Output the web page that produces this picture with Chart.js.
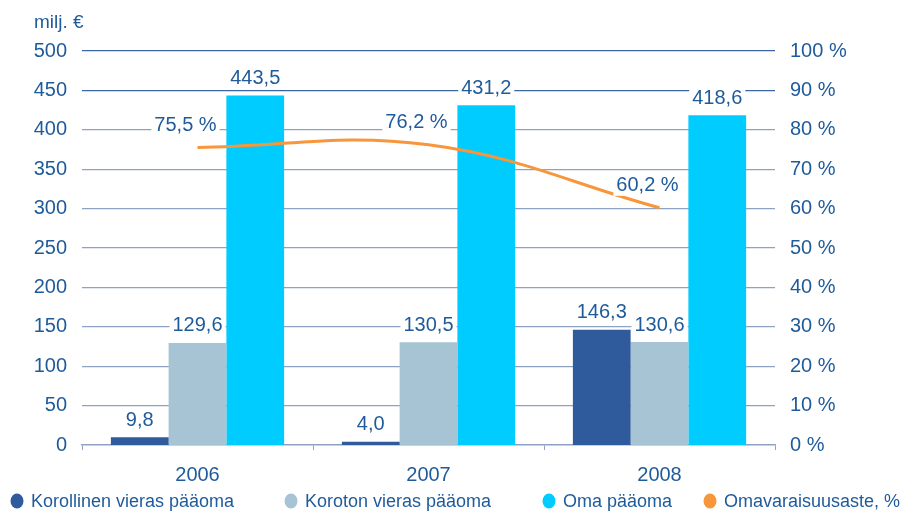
<!DOCTYPE html>
<html>
<head>
<meta charset="utf-8">
<script src="https://cdn.jsdelivr.net/npm/chart.js@4/dist/chart.umd.min.js"></script>
<style>
  body { margin: 0; background: #fff; }
  #wrap { width: 909px; height: 514px; position: relative; }
</style>
</head>
<body>
<div id="wrap"><canvas id="chart"></canvas></div>
<script>
// data
const years = ['2006', '2007', '2008'];
const korollinen = [9.8, 4.0, 146.3];
const koroton = [129.6, 130.5, 130.6];
const omaPaaoma = [443.5, 431.2, 418.6];
const omavaraisuus = [75.5, 76.2, 60.2];
const seriesNames = ['Korollinen vieras pääoma', 'Koroton vieras pääoma', 'Oma pääoma', 'Omavaraisuusaste, %'];
const unitTitle = 'milj. €';

const TEXT = '#1F5B9B';
const FONT = '"Liberation Sans", Arial, sans-serif';
const colors = ['#2F5B9C', '#A7C4D5', '#00CCFF', '#F7963A'];

const fmt = (v) => v.toFixed(1).replace('.', ',');

// value labels with a white box behind them, title and legend
const labelsPlugin = {
  id: 'labels',
  afterDatasetsDraw(chart) {
    const ctx = chart.ctx;
    ctx.save();
    ctx.font = '20px ' + FONT;
    ctx.textAlign = 'center';
    ctx.textBaseline = 'middle';
    chart.data.datasets.forEach((ds, i) => {
      const meta = chart.getDatasetMeta(i);
      meta.data.forEach((el, j) => {
        const isLine = ds.type === 'line';
        const text = isLine ? fmt(ds.data[j]) + ' %' : fmt(ds.data[j]);
        const x = isLine ? el.x - 12 : el.x;
        const y = isLine ? el.y - 23 : el.y - 18;
        const w = ctx.measureText(text).width + 6;
        ctx.fillStyle = '#fff';
        ctx.fillRect(x - w / 2, y - 11, w, 22);
        ctx.fillStyle = TEXT;
        ctx.fillText(text, x, y + 1);
      });
    });
    ctx.restore();
  },
  afterDraw(chart) {
    const ctx = chart.ctx;
    ctx.save();
    ctx.fillStyle = TEXT;
    ctx.textBaseline = 'middle';
    ctx.textAlign = 'left';
    ctx.font = '19px ' + FONT;
    ctx.fillText(unitTitle, 34, 23);

    // legend row
    const starts = [10, 284, 542, 703];
    ctx.font = '18px ' + FONT;
    chart.data.datasets.forEach((ds, i) => {
      const cx = starts[i] + 7;
      ctx.beginPath();
      ctx.fillStyle = colors[i];
      ctx.ellipse(cx, 501, 6.5, 7.5, 0, 0, Math.PI * 2);
      ctx.fill();
      ctx.fillStyle = TEXT;
      ctx.fillText(ds.label, starts[i] + 21, 502);
    });
    ctx.restore();
  }
};

new Chart(document.getElementById('chart'), {
  type: 'bar',
  data: {
    labels: years,
    datasets: [
      { label: seriesNames[0], data: korollinen, backgroundColor: colors[0], yAxisID: 'y', order: 1 },
      { label: seriesNames[1], data: koroton, backgroundColor: colors[1], yAxisID: 'y', order: 1 },
      { label: seriesNames[2], data: omaPaaoma, backgroundColor: colors[2], yAxisID: 'y', order: 1 },
      {
        type: 'line', label: seriesNames[3], data: omavaraisuus, yAxisID: 'y1', order: 0,
        borderColor: colors[3], borderWidth: 3, pointRadius: 0, tension: 0.4, fill: false
      }
    ]
  },
  options: {
    responsive: true,
    maintainAspectRatio: false,
    animation: false,
    layout: { padding: { top: 51, left: 0, right: 0, bottom: 0 } },
    datasets: { bar: { categoryPercentage: 0.75, barPercentage: 1 } },
    plugins: { legend: { display: false }, tooltip: { enabled: false } },
    scales: {
      x: {
        afterFit: (s) => { s.height = 69; },
        grid: { drawOnChartArea: false, tickLength: 5, color: '#8EA2C4', offset: true },
        border: { color: '#8EA2C4', width: 1.5 },
        ticks: { color: TEXT, font: { family: FONT, size: 20 }, padding: 13 }
      },
      y: {
        position: 'left',
        min: 0, max: 500,
        afterFit: (s) => { s.width = 82; },
        border: { display: false },
        grid: {
          drawTicks: false,
          color: (c) => (c.tick && c.tick.value >= 450 ? '#3D66A5' : '#8EA2C4'),
          lineWidth: (c) => (c.tick && c.tick.value === 0 ? 0 : 1.2)
        },
        ticks: { stepSize: 50, color: TEXT, font: { family: FONT, size: 20 }, padding: 15 }
      },
      y1: {
        position: 'right',
        min: 0, max: 100,
        afterFit: (s) => { s.width = 134; },
        border: { display: false },
        grid: { drawOnChartArea: false, drawTicks: false },
        ticks: { stepSize: 10, color: TEXT, font: { family: FONT, size: 20 }, padding: 15, callback: (v) => v + ' %' }
      }
    }
  },
  plugins: [labelsPlugin]
});
</script>
</body>
</html>
